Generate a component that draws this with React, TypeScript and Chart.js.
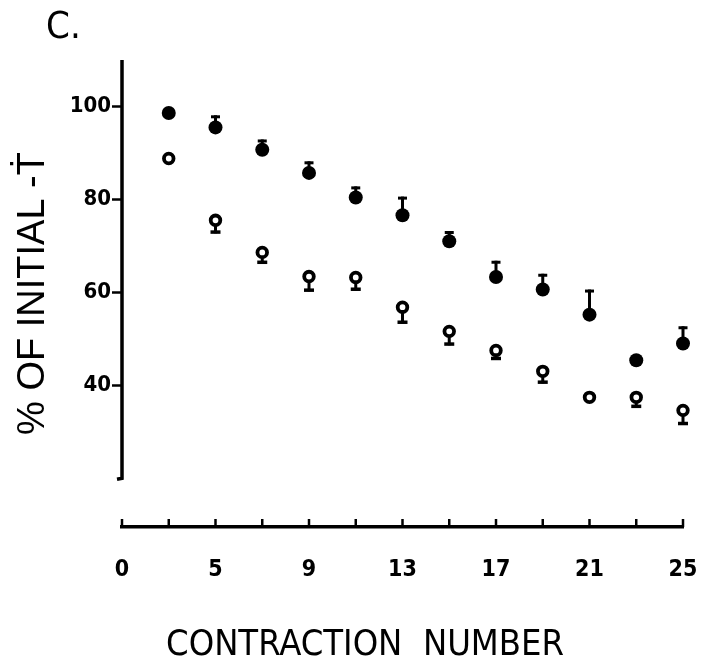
import React, { useEffect, useRef } from 'react';
import { Chart, registerables } from 'chart.js';

Chart.register(...registerables);

// ---- data ----
const contraction = [3, 5, 7, 9, 11, 13, 15, 17, 19, 21, 23, 25];
const filledMean = [98.6, 95.5, 90.7, 85.7, 80.4, 76.6, 71.0, 63.3, 60.6, 55.2, 45.4, 49.0];
const filledErrUp = [0, 2.6, 2.2, 2.5, 2.4, 4.0, 2.2, 3.5, 3.4, 5.4, 0, 3.7];
const openMean = [88.8, 75.5, 68.6, 63.4, 63.2, 56.8, 51.6, 47.5, 43.0, 37.4, 37.4, 34.6];
const openErrDown = [0, 2.8, 2.4, 3.2, 2.8, 3.5, 3.0, 2.0, 2.6, 0, 2.2, 3.1];

const xTickMarks = [1, 3, 5, 7, 9, 11, 13, 15, 17, 19, 21, 23, 25];
const xLabelValues = [1, 5, 9, 13, 17, 21, 25];
const xLabelTexts = ['0', '5', '9', '13', '17', '21', '25'];
const yTickValues = [40, 60, 80, 100];
const yTickTexts = ['40', '60', '80', '100'];

const X_MIN = 1;
const X_MAX = 25;
const Y_MIN = 9.5;
const Y_MAX = 110;
const Y_AXIS_LINE_BOTTOM = 20;

const PANEL_LABEL = 'C.';
const X_TITLE = 'CONTRACTION  NUMBER';
const Y_TITLE = '% OF INITIAL -Ṫ';

const NARROW = '"Liberation Sans Narrow", "DejaVu Sans Condensed", "Liberation Sans", Arial, sans-serif';
const REGULAR = '"Liberation Sans", Arial, "DejaVu Sans", sans-serif';

const errorBarPlugin = {
  id: 'errorBars',
  afterDatasetsDraw(chart: any) {
    const { ctx } = chart;
    const x = chart.scales.x;
    const y = chart.scales.y;
    ctx.save();
    ctx.fillStyle = '#000';
    chart.data.datasets.forEach((ds: any) => {
      const errs: number[] = ds.errValues;
      const dir: number = ds.errDir;
      const r: number = ds.pointRadius;
      ds.data.forEach((p: any, i: number) => {
        const e = errs[i];
        if (!e) return;
        const px = x.getPixelForValue(p.x);
        const py = y.getPixelForValue(p.y);
        const ey = y.getPixelForValue(p.y + dir * e);
        if (dir > 0) {
          ctx.fillRect(px - 1.5, ey, 3, py - ey);
          ctx.fillRect(px - 4.5, ey, 9, 3);
        } else {
          const start = py + r;
          ctx.fillRect(px - 1.5, start, 3, ey - start);
          ctx.fillRect(px - 5, ey - 3, 10, 3.5);
        }
      });
    });
    ctx.restore();
  },
};

const decorPlugin = {
  id: 'decor',
  beforeDatasetsDraw(chart: any) {
    const { ctx, chartArea } = chart;
    const x = chart.scales.x;
    const y = chart.scales.y;
    ctx.save();
    ctx.strokeStyle = '#000';
    ctx.lineWidth = 3.5;
    const lx = chartArea.left;
    const top = y.getPixelForValue(Y_MAX);
    const bot = y.getPixelForValue(Y_AXIS_LINE_BOTTOM);
    ctx.beginPath();
    ctx.moveTo(lx, top);
    ctx.lineTo(lx, bot);
    ctx.lineTo(lx - 5, bot + 1);
    ctx.stroke();
    ctx.lineWidth = 2.5;
    xTickMarks.forEach((v) => {
      const px = x.getPixelForValue(v);
      ctx.beginPath();
      ctx.moveTo(px, chartArea.bottom);
      ctx.lineTo(px, chartArea.bottom - 8);
      ctx.stroke();
    });
    ctx.restore();
  },
  afterDraw(chart: any) {
    const { ctx } = chart;
    ctx.save();
    ctx.fillStyle = '#000';
    ctx.textBaseline = 'alphabetic';
    ctx.font = `38px ${NARROW}`;
    ctx.textAlign = 'left';
    ctx.fillText(PANEL_LABEL, 46, 38);
    ctx.font = `36px ${NARROW}`;
    ctx.textAlign = 'center';
    ctx.fillText(X_TITLE, 365, 655);
    ctx.restore();
  },
};

export default function App() {
  const ref = useRef<HTMLCanvasElement | null>(null);

  useEffect(() => {
    if (!ref.current) return;
    const chart = new Chart(ref.current, {
      type: 'scatter',
      data: {
        datasets: [
          {
            label: 'filled',
            data: contraction.map((c, i) => ({ x: c, y: filledMean[i] })),
            pointRadius: 7,
            pointHoverRadius: 7,
            pointBackgroundColor: '#000',
            pointBorderColor: '#000',
            pointBorderWidth: 0,
            showLine: false,
            clip: false,
            errValues: filledErrUp,
            errDir: 1,
          } as any,
          {
            label: 'open',
            data: contraction.map((c, i) => ({ x: c, y: openMean[i] })),
            pointRadius: 4.8,
            pointHoverRadius: 4.8,
            pointBackgroundColor: '#fff',
            pointBorderColor: '#000',
            pointBorderWidth: 3.8,
            showLine: false,
            clip: false,
            errValues: openErrDown,
            errDir: -1,
          } as any,
        ],
      },
      options: {
        responsive: false,
        animation: false,
        layout: { autoPadding: false, padding: { top: 60, right: 21, bottom: 0, left: 0 } },
        plugins: {
          legend: { display: false },
          tooltip: { enabled: false },
          title: { display: false },
        },
        scales: {
          x: {
            type: 'linear',
            min: X_MIN,
            max: X_MAX,
            grid: { display: false, drawTicks: false },
            border: { display: true, color: '#000', width: 3.5 },
            afterBuildTicks: (s: any) => {
              s.ticks = xLabelValues.map((v) => ({ value: v }));
            },
            afterFit: (s: any) => {
              s.height = 666 - 527;
              s.paddingLeft = 0;
              s.paddingRight = 0;
            },
            ticks: {
              color: '#000',
              padding: 29,
              autoSkip: false,
              maxRotation: 0,
              font: { family: NARROW, size: 23, weight: 'bold' },
              callback: (v: any) => {
                const idx = xLabelValues.indexOf(Number(v));
                return idx >= 0 ? xLabelTexts[idx] : '';
              },
            },
          },
          y: {
            type: 'linear',
            min: Y_MIN,
            max: Y_MAX,
            grid: {
              display: true,
              drawOnChartArea: false,
              drawTicks: true,
              tickLength: 10,
              tickWidth: 2.5,
              tickColor: '#000',
              color: '#000',
            },
            border: { display: false },
            afterBuildTicks: (s: any) => {
              s.ticks = yTickValues.map((v) => ({ value: v }));
            },
            afterFit: (s: any) => {
              s.width = 122;
              s.paddingTop = 0;
              s.paddingBottom = 0;
            },
            ticks: {
              color: '#000',
              padding: 1,
              autoSkip: false,
              font: { family: NARROW, size: 22, weight: 'bold' },
              callback: (v: any) => {
                const idx = yTickValues.indexOf(Number(v));
                return idx >= 0 ? yTickTexts[idx] : '';
              },
            },
            title: {
              display: true,
              text: Y_TITLE,
              color: '#000',
              font: { family: REGULAR, size: 38, weight: 'normal' },
              padding: { top: 11, bottom: 0 },
            },
          },
        },
      } as any,
      plugins: [decorPlugin, errorBarPlugin],
    });
    return () => chart.destroy();
  }, []);

  return (
    <div style={{ position: 'fixed', left: 0, top: 0, width: 704, height: 666, background: '#fff' }}>
      <canvas ref={ref} width={704} height={666} style={{ display: 'block' }} />
    </div>
  );
}
